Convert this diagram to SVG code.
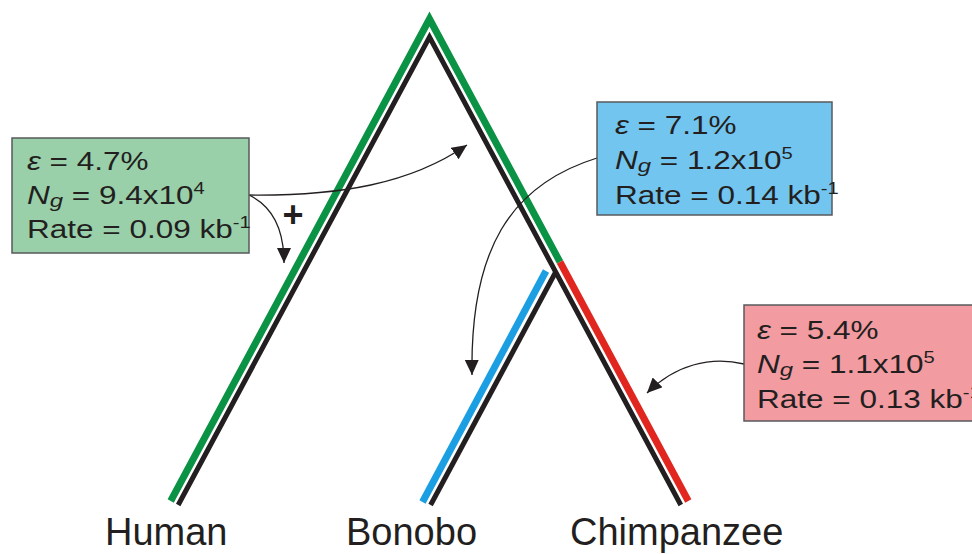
<svg xmlns="http://www.w3.org/2000/svg" width="972" height="554" viewBox="0 0 972 554">
<style>
.lbl{font-family:"Liberation Sans",Arial,sans-serif;font-size:38px;fill:#231f20}
.bt{font-family:"Liberation Sans",Arial,sans-serif;font-size:25px;fill:#231f20}
.it{font-style:italic}
.box{stroke:#58595b;stroke-width:1.5}
.con{fill:none;stroke:#231f20;stroke-width:1.3}
.tree{fill:none;stroke-linejoin:miter;stroke-linecap:butt;stroke-miterlimit:10}
</style>
<defs>
<marker id="ah" markerUnits="userSpaceOnUse" markerWidth="16" markerHeight="14" refX="15" refY="7" orient="auto">
<path d="M0,0 L15,7 L0,14 z" fill="#231f20"/>
</marker>
</defs>
<rect width="972" height="554" fill="#ffffff"/>
<g id="tree">
<path class="tree" d="M178.2,505 L429.5,37 L680.8,505" stroke="#231f20" stroke-width="5"/>
<path class="tree" d="M555.7,272 L430.6,505" stroke="#231f20" stroke-width="5"/>
<path class="tree" d="M170.7,501 L429.5,19 L560,262" stroke="#0a9345" stroke-width="7"/>
<path class="tree" d="M560,262 L688.3,501" stroke="#e1251f" stroke-width="7"/>
<path class="tree" d="M546,271 L422.5,502" stroke="#1c9fe2" stroke-width="7"/>
</g>
<g id="connectors">
<path class="con" d="M249,195 C340,196 410,184 467,145" marker-end="url(#ah)"/>
<path class="con" d="M249,195 C270,205 284,225 284,263" marker-end="url(#ah)"/>
<path class="con" d="M597,158 C510,185 470,250 472,375" marker-end="url(#ah)"/>
<path class="con" d="M744,364 C710,356 675,365 647,393" marker-end="url(#ah)"/>
<text x="293" y="227" text-anchor="middle" font-family="Liberation Sans, Arial, sans-serif" font-size="36" font-weight="bold" fill="#231f20">+</text>
</g>
<g id="box-human">
<rect class="box" x="12" y="138" width="237" height="115" fill="#99d0aa"/>
<g transform="translate(27 0) scale(1.26 1)">
<text class="bt"><tspan x="0" y="170"><tspan class="it">ε</tspan> = 4.7%</tspan><tspan x="0" y="204"><tspan class="it">N</tspan><tspan class="it" font-size="19" dy="3">g</tspan><tspan dy="-3"> = 9.4x10</tspan><tspan font-size="16" dy="-10">4</tspan></tspan><tspan x="0" y="238">Rate = 0.09 kb<tspan font-size="16" dy="-10">-1</tspan></tspan></text>
</g>
</g>
<g id="box-bonobo">
<rect class="box" x="597" y="102" width="235" height="113" fill="#72c5ef"/>
<g transform="translate(615 0) scale(1.26 1)">
<text class="bt"><tspan x="0" y="134"><tspan class="it">ε</tspan> = 7.1%</tspan><tspan x="0" y="169"><tspan class="it">N</tspan><tspan class="it" font-size="19" dy="3">g</tspan><tspan dy="-3"> = 1.2x10</tspan><tspan font-size="16" dy="-10">5</tspan></tspan><tspan x="0" y="204">Rate = 0.14 kb<tspan font-size="16" dy="-10">-1</tspan></tspan></text>
</g>
</g>
<g id="box-chimp">
<rect class="box" x="744" y="305" width="240" height="116" fill="#f29ba1"/>
<g transform="translate(757 0) scale(1.26 1)">
<text class="bt"><tspan x="0" y="339"><tspan class="it">ε</tspan> = 5.4%</tspan><tspan x="0" y="373"><tspan class="it">N</tspan><tspan class="it" font-size="19" dy="3">g</tspan><tspan dy="-3"> = 1.1x10</tspan><tspan font-size="16" dy="-10">5</tspan></tspan><tspan x="0" y="408">Rate = 0.13 kb<tspan font-size="16" dy="-10">-1</tspan></tspan></text>
</g>
</g>
<g id="label-human"><text class="lbl" x="105" y="545">Human</text></g>
<g id="label-bonobo"><text class="lbl" x="346" y="545">Bonobo</text></g>
<g id="label-chimpanzee"><text class="lbl" x="570" y="545">Chimpanzee</text></g>
</svg>
